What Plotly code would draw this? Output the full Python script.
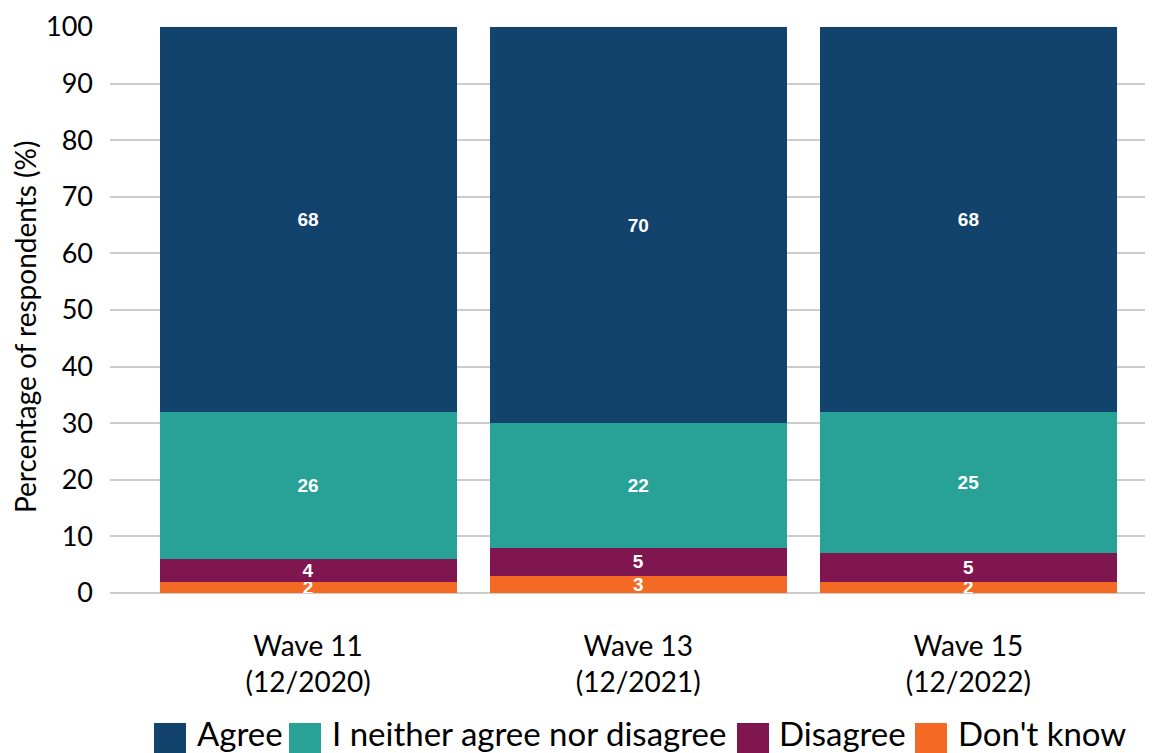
import plotly.graph_objects as go

waves = ["Wave 11<br>(12/2020)", "Wave 13<br>(12/2021)", "Wave 15<br>(12/2022)"]

# stacked from the bottom up
dont_know = [2, 3, 2]
disagree = [4, 5, 5]
neither = [26, 22, 25]
agree = [68, 70, 68]

series = [
    ("Don't know", dont_know, "#F46A25"),
    ("Disagree", disagree, "#801650"),
    ("I neither agree nor disagree", neither, "#28A197"),
    ("Agree", agree, "#12436D"),
]

# page body has an 8px margin, so the figure is a bit smaller than the window
OFF = 8
W, H = 1148, 745
L, R, T, B = 102, 11, 19, 160
pw, ph = W - L - R, H - T - B


def px(x):
    # screen x -> paper
    return (x - OFF - L) / pw


def py(y):
    # screen y -> paper
    return (H - B - (y - OFF)) / ph


fig = go.Figure()
for name, vals, col in series:
    fig.add_trace(go.Bar(
        x=waves, y=vals, name=name,
        marker=dict(color=col, line=dict(width=0)),
        text=[str(v) for v in vals],
        textposition="inside",
        insidetextanchor="middle",
        constraintext="none",
        textfont=dict(family="Liberation Sans, Arial", size=19, color="white", weight="bold"),
        textangle=0,
        showlegend=False,
    ))

# hand-made legend, big squares like the original
legend_items = [
    ("Agree", "#12436D", 154, 196),
    ("I neither agree nor disagree", "#28A197", 289, 331),
    ("Disagree", "#801650", 737, 778),
    ("Don't know", "#F46A25", 915, 957),
]
for label, col, sx, tx in legend_items:
    fig.add_shape(type="rect", xref="paper", yref="paper",
                  x0=px(sx), x1=px(sx + 32), y0=py(723), y1=py(757),
                  fillcolor=col, line=dict(width=0), layer="above")
    fig.add_annotation(text=label, xref="paper", yref="paper",
                       x=px(tx), y=py(754), xanchor="left", yanchor="bottom",
                       showarrow=False, borderpad=0,
                       font=dict(family="Lato, Open Sans, sans-serif",
                                 size=33, color="black"))

fig.add_annotation(text="Percentage of respondents (%)", xref="paper", yref="paper",
                   x=px(25), y=py(327), textangle=-90, showarrow=False,
                   xanchor="center", yanchor="middle",
                   font=dict(size=28, color="black"))

fig.update_layout(
    barmode="stack",
    bargap=0.1,
    width=W, height=H,
    margin=dict(l=L, r=R, t=T, b=B),
    plot_bgcolor="white", paper_bgcolor="white",
    font=dict(family="Lato, Open Sans, sans-serif", color="black"),
    showlegend=False,
)
fig.update_xaxes(
    range=[-0.6, 2.535], automargin=False,
    tickfont=dict(size=28),
    showgrid=False, showline=False, ticks="",
    ticklabelstandoff=34,
)
fig.update_yaxes(
    range=[0, 100], dtick=10, automargin=False,
    tickfont=dict(size=27),
    showgrid=True, gridcolor="#CCCCCC", gridwidth=2,
    zeroline=True, zerolinecolor="#CCCCCC", zerolinewidth=2,
    ticks="", ticklabelstandoff=16,
)

fig.write_html("out.html")
